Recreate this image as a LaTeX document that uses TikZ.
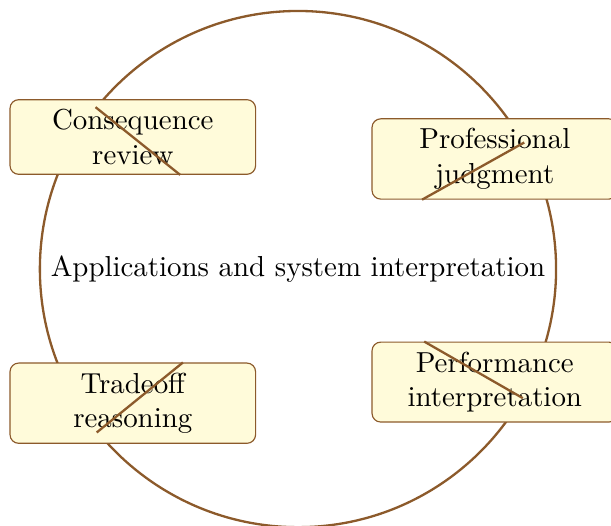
\documentclass[tikz,border=0pt]{standalone}
\definecolor{edgebrown}{RGB}{140,90,43}
\definecolor{boxfill}{RGB}{255,251,218}
\begin{document}
\begin{tikzpicture}[x=1pt,y=1pt,
  hub/.style={circle,draw=edgebrown,line width=0.8pt,inner sep=0pt,minimum size=178.6pt},
  item/.style={draw=edgebrown,fill=boxfill,rounded corners=3pt,line width=0.4pt,text width=78.3pt,align=center,inner sep=3.33pt},
  link/.style={draw=edgebrown,line width=0.8pt}]
\useasboundingbox (-103.1,-88.6) rectangle (108.3,93.1);
\node[hub] (c) at (0,0) {Applications and system interpretation};
\node[item] (b1) at (-57.15,45.7) {Consequence review};
\node[item] (b2) at (68.1,38.1) {Professional judgment};
\node[item] (b3) at (-57.15,-46.4) {Tradeoff reasoning};
\node[item] (b4) at (68.1,-39.1) {Performance interpretation};
\draw[link] (c) -- (b1);
\draw[link] (c) -- (b2);
\draw[link] (c) -- (b3);
\draw[link] (c) -- (b4);
\end{tikzpicture}
\end{document}
